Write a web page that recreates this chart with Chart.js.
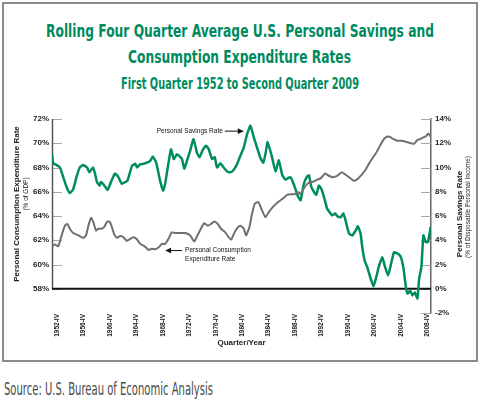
<!DOCTYPE html>
<html lang="en">

<head>
    <meta charset="UTF-8" />
    <title>Rolling Four Quarter Average U.S. Personal Savings and Consumption Expenditure Rates</title>
    <script src="https://cdn.jsdelivr.net/npm/chart.js"></script>
    <style>
        body { margin: 0; width: 482px; height: 401px; background: #fff; position: relative; overflow: hidden; }
        .frame { position: absolute; left: 2px; top: 2px; width: 476px; height: 360px; box-sizing: border-box; border: 2px solid #8c8c8c; }
        .fit { position: absolute; white-space: nowrap; transform-origin: 0 50%; font-family: 'Liberation Sans Narrow', 'DejaVu Sans Condensed', sans-serif; }
        .title { font-size: 18px; line-height: 26px; font-weight: bold; color: #008a5e; }
        .subtitle { font-size: 15px; line-height: 20px; font-weight: bold; color: #008a5e; }
        .source { font-size: 18px; line-height: 20px; color: #4a4a4a; }
        canvas { position: absolute; left: 0; top: 0; }
    </style>
</head>

<body>
    <div class="frame"></div>
    <div id="t1" class="fit title" style="left:46px; top:18px;">Rolling Four Quarter Average U.S. Personal Savings and</div>
    <div id="t2" class="fit title" style="left:128px; top:44px;">Consumption Expenditure Rates</div>
    <div id="t3" class="fit subtitle" style="left:121px; top:74px;">First Quarter 1952 to Second Quarter 2009</div>
    <div id="src" class="fit source" style="left:4px; top:379px;">Source: U.S. Bureau of Economic Analysis</div>
    <canvas id="chart" width="482" height="401"></canvas>

    <script>
        // values (decimal year, quarter 1 = .0)
        const savingsYears = [1952.0, 1952.2, 1952.7, 1953.2, 1953.7, 1954.2, 1954.7, 1955.2, 1955.7, 1956.2, 1956.7, 1957.3, 1957.65, 1958.2, 1958.5, 1958.8, 1959.2, 1959.4, 1959.8, 1960.4, 1960.8, 1961.5, 1962.0, 1962.55, 1963.05, 1963.4, 1964.1, 1964.6, 1964.85, 1965.3, 1965.8, 1966.35, 1966.85, 1967.25, 1967.75, 1968.35, 1968.8, 1969.1, 1969.5, 1970.0, 1970.4, 1970.9, 1971.15, 1971.65, 1972.0, 1972.4, 1972.9, 1973.4, 1973.9, 1974.3, 1974.8, 1975.3, 1975.7, 1976.2, 1976.6, 1976.95, 1977.45, 1977.95, 1978.45, 1978.95, 1979.45, 1980.0, 1980.5, 1981.0, 1981.5, 1982.0, 1982.5, 1983.0, 1983.5, 1983.95, 1984.3, 1984.6, 1985.2, 1985.8, 1986.3, 1986.8, 1987.3, 1988.0, 1988.5, 1989.2, 1989.6, 1990.05, 1990.5, 1990.85, 1991.2, 1991.6, 1991.95, 1992.35, 1992.75, 1993.2, 1993.6, 1994.0, 1994.35, 1994.8, 1995.2, 1995.65, 1996.05, 1996.4, 1996.9, 1997.4, 1997.9, 1998.25, 1998.65, 1998.9, 1999.25, 1999.65, 2000.2, 2000.6, 2000.95, 2001.45, 2001.95, 2002.3, 2002.8, 2003.2, 2003.7, 2004.25, 2004.75, 2005.15, 2005.5, 2005.75, 2006.15, 2006.5, 2006.85, 2007.25, 2007.5, 2007.85, 2008.15, 2008.5, 2008.85, 2009.25];
        const savingsRate = [11.1, 10.35, 10.2, 10.0, 9.2, 8.4, 7.9, 8.2, 9.2, 10.0, 10.2, 10.0, 9.6, 10.0, 9.5, 8.8, 8.5, 8.8, 8.6, 8.15, 8.65, 9.5, 9.25, 8.65, 8.8, 8.9, 10.15, 10.3, 10.0, 10.25, 10.3, 10.4, 10.55, 10.9, 10.4, 8.9, 8.1, 8.65, 10.0, 11.5, 10.7, 11.1, 11.0, 10.7, 9.9, 10.55, 11.4, 12.35, 11.25, 10.85, 11.45, 11.8, 11.5, 10.7, 10.85, 10.0, 10.35, 10.0, 9.7, 9.6, 9.8, 10.3, 11.0, 11.65, 12.75, 13.45, 12.5, 11.65, 10.8, 10.4, 11.2, 12.1, 11.0, 9.7, 10.6, 9.4, 9.0, 9.2, 8.7, 7.6, 7.3, 8.6, 9.2, 9.35, 8.4, 8.0, 7.75, 8.5, 8.2, 7.4, 6.6, 6.3, 6.05, 6.2, 5.95, 5.9, 6.2, 5.6, 4.55, 4.4, 4.8, 5.15, 4.55, 3.45, 2.35, 1.8, 0.8, 0.2, 0.8, 1.9, 2.6, 1.9, 1.1, 1.9, 3.0, 2.9, 2.6, 1.65, 0.15, -0.4, -0.15, -0.55, -0.3, -0.8, 0.8, 1.8, 4.4, 3.85, 3.85, 5.1];

        const consumptionYears = [1952.0, 1952.45, 1952.95, 1953.45, 1953.95, 1954.3, 1954.7, 1955.2, 1956.0, 1956.75, 1957.15, 1957.5, 1957.9, 1958.25, 1958.65, 1959.0, 1959.5, 1959.9, 1960.3, 1960.7, 1961.05, 1961.4, 1961.8, 1962.3, 1962.8, 1963.3, 1963.8, 1964.3, 1964.8, 1965.35, 1966.1, 1966.6, 1967.1, 1967.6, 1968.1, 1968.6, 1969.1, 1969.6, 1970.1, 1970.65, 1971.4, 1972.15, 1972.9, 1973.5, 1974.0, 1974.5, 1975.0, 1975.55, 1976.05, 1976.55, 1977.05, 1977.55, 1978.2, 1978.7, 1979.1, 1979.6, 1980.15, 1980.5, 1981.0, 1981.35, 1981.85, 1982.25, 1982.65, 1983.2, 1983.65, 1984.25, 1984.75, 1985.4, 1986.05, 1986.55, 1987.05, 1987.55, 1988.05, 1988.7, 1989.3, 1989.55, 1990.1, 1990.6, 1991.1, 1991.6, 1992.1, 1992.6, 1993.3, 1993.9, 1994.5, 1995.1, 1995.8, 1996.4, 1996.9, 1997.6, 1998.1, 1998.9, 1999.5, 1999.9, 2000.5, 2001.0, 2001.5, 2002.0, 2002.5, 2002.95, 2003.6, 2004.2, 2004.9, 2005.6, 2006.3, 2006.75, 2007.2, 2007.7, 2008.2, 2008.6, 2008.9, 2009.25];
        const consumptionRate = [61.5, 61.65, 61.5, 62.4, 63.2, 63.35, 62.95, 62.6, 62.4, 62.2, 62.4, 63.2, 63.85, 63.5, 62.8, 62.95, 62.95, 63.1, 63.5, 63.55, 63.1, 62.5, 62.2, 62.35, 62.25, 61.95, 62.1, 62.25, 62.1, 61.7, 61.45, 61.2, 61.3, 61.25, 61.4, 61.7, 61.7, 62.1, 62.65, 62.6, 62.6, 62.6, 62.4, 61.9, 62.4, 62.95, 63.4, 63.2, 63.35, 63.55, 63.35, 62.95, 62.65, 62.25, 62.05, 62.65, 63.1, 63.2, 62.95, 62.4, 63.1, 64.2, 65.0, 65.15, 64.6, 63.9, 64.3, 64.75, 65.1, 65.3, 65.5, 65.75, 65.8, 65.8, 65.95, 65.8, 66.3, 66.65, 66.8, 66.85, 67.0, 67.1, 67.5, 67.3, 67.2, 67.3, 67.6, 67.4, 67.2, 66.9, 67.0, 67.45, 67.9, 68.3, 68.8, 69.2, 69.7, 70.2, 70.5, 70.55, 70.35, 70.2, 70.2, 70.1, 70.0, 69.95, 70.25, 70.35, 70.5, 70.6, 70.8, 70.55];

        const tickYears = [1952, 1956, 1960, 1964, 1968, 1972, 1976, 1980, 1984, 1988, 1992, 1996, 2000, 2004, 2008];

        const GREEN = '#008c62';
        const GREY = '#707072';
        const TEXT = '#222';

        // squeeze the condensed headline lines to the width they have in the reference
        function fitWidth(id, target) {
            const el = document.getElementById(id);
            const w = el.getBoundingClientRect().width;
            el.style.transform = `scaleX(${target / w})`;
        }
        fitWidth('t1', 388);
        fitWidth('t2', 223);
        fitWidth('t3', 238);
        fitWidth('src', 209);

        Chart.defaults.font.family = "'Liberation Sans', Arial, sans-serif";
        Chart.defaults.color = TEXT;

        function toPoints(xs, ys) {
            return xs.map((x, i) => ({ x: x, y: ys[i] }));
        }

        function vText(ctx, text, x, y, font) {
            ctx.save();
            ctx.translate(x, y);
            ctx.rotate(-Math.PI / 2);
            ctx.font = font;
            ctx.textAlign = 'center';
            ctx.textBaseline = 'middle';
            ctx.fillText(text, 0, 0);
            ctx.restore();
        }

        function arrow(ctx, x1, y, x2) {
            // shaft from x1 to the head at x2
            const dir = Math.sign(x2 - x1);
            ctx.beginPath();
            ctx.moveTo(x1, y);
            ctx.lineTo(x2 - dir * 5, y);
            ctx.stroke();
            ctx.beginPath();
            ctx.moveTo(x2, y);
            ctx.lineTo(x2 - dir * 6, y - 2.8);
            ctx.lineTo(x2 - dir * 6, y + 2.8);
            ctx.closePath();
            ctx.fill();
        }

        // axis ticks pointing into the plot, the 0% baseline and the left axis line
        const axisDecor = {
            id: 'axisDecor',
            beforeDatasetsDraw(chart) {
                const { ctx, chartArea: a, scales } = chart;
                const left = scales.yCons, right = scales.ySave;
                ctx.save();
                ctx.strokeStyle = '#a8a8a8';
                ctx.lineWidth = 1;
                left.ticks.forEach(t => {
                    const y = Math.round(left.getPixelForValue(t.value)) + 0.5;
                    ctx.beginPath(); ctx.moveTo(a.left, y); ctx.lineTo(a.left + 10, y); ctx.stroke();
                });
                right.ticks.forEach(t => {
                    const y = Math.round(right.getPixelForValue(t.value)) + 0.5;
                    ctx.beginPath(); ctx.moveTo(a.right - 10, y); ctx.lineTo(a.right, y); ctx.stroke();
                });
                ctx.strokeStyle = '#555';
                ctx.lineWidth = 1.5;
                ctx.beginPath();
                ctx.moveTo(a.left + 0.5, left.getPixelForValue(72));
                ctx.lineTo(a.left + 0.5, left.getPixelForValue(58));
                ctx.stroke();
                ctx.strokeStyle = '#111';
                ctx.lineWidth = 2;
                const y0 = right.getPixelForValue(0);
                ctx.beginPath(); ctx.moveTo(a.left, y0); ctx.lineTo(a.right, y0); ctx.stroke();
                ctx.restore();
            },
            afterDraw(chart) {
                const { ctx, chartArea: a, scales } = chart;
                const x = scales.x, left = scales.yCons, right = scales.ySave;
                ctx.save();
                ctx.fillStyle = TEXT;
                vText(ctx, 'Personal Consumption Expenditure Rate', 17, 204, 'bold 8px Liberation Sans');
                vText(ctx, '(% of GDP)', 26, 194, '6.5px Liberation Sans');
                vText(ctx, 'Personal Savings Rate', 460, 214, 'bold 8px Liberation Sans');
                vText(ctx, '(% of Disposable Personal Income)', 468, 207, '6.5px Liberation Sans');

                ctx.font = 'bold 8px Liberation Sans';
                ctx.textAlign = 'center';
                ctx.textBaseline = 'middle';
                ctx.fillText('Quarter/Year', (a.left + a.right) / 2, 343);

                // line callouts
                ctx.font = '6.5px Liberation Sans';
                ctx.strokeStyle = '#111';
                ctx.fillStyle = '#111';
                ctx.lineWidth = 1;
                const sx = x.getPixelForValue(1981.0), sy = right.getPixelForValue(13.0);
                arrow(ctx, sx - 19, sy, sx);
                ctx.textAlign = 'right';
                ctx.fillText('Personal Savings Rate', sx - 21, sy);

                const cx = x.getPixelForValue(1969.1), cy = left.getPixelForValue(61.15);
                arrow(ctx, cx + 17, cy, cx);
                ctx.textAlign = 'left';
                ctx.fillText('Personal Consumption', cx + 20, cy);
                ctx.fillText('Expenditure Rate', cx + 20, cy + 8.5);
                ctx.restore();
            }
        };

        new Chart(document.getElementById('chart'), {
            type: 'line',
            data: {
                datasets: [
                    {
                        label: 'Personal Consumption Expenditure Rate',
                        data: toPoints(consumptionYears, consumptionRate),
                        yAxisID: 'yCons',
                        borderColor: GREY,
                        borderWidth: 2,
                        pointRadius: 0,
                        tension: 0.15
                    },
                    {
                        label: 'Personal Savings Rate',
                        data: toPoints(savingsYears, savingsRate),
                        yAxisID: 'ySave',
                        borderColor: GREEN,
                        borderWidth: 2.5,
                        pointRadius: 0,
                        tension: 0.15
                    }
                ]
            },
            options: {
                responsive: false,
                animation: false,
                devicePixelRatio: 1,
                layout: { padding: { top: 119, left: 0, right: 0, bottom: 51 } },
                plugins: { legend: { display: false }, tooltip: { enabled: false } },
                scales: {
                    x: {
                        type: 'linear',
                        min: 1952,
                        max: 2009.3,
                        grid: { display: false, drawTicks: false },
                        border: { display: false },
                        afterBuildTicks: s => { s.ticks = tickYears.map(y => ({ value: y + 0.75 })); },
                        afterFit: s => { s.height = 37; },
                        ticks: {
                            autoSkip: false,
                            minRotation: 90,
                            maxRotation: 90,
                            padding: 1,
                            font: { size: 6.5, weight: 'bold' },
                            callback: v => Math.floor(v) + '-IV'
                        }
                    },
                    yCons: {
                        position: 'left',
                        min: 56,
                        max: 72,
                        grid: { display: false, drawTicks: false },
                        border: { display: false },
                        afterBuildTicks: s => { s.ticks = s.ticks.filter(t => t.value >= 58); },
                        afterFit: s => { s.width = 52; },
                        ticks: { stepSize: 2, padding: 3, font: { size: 8, weight: 'bold' }, callback: v => v + '%' }
                    },
                    ySave: {
                        position: 'right',
                        min: -2,
                        max: 14,
                        grid: { display: false, drawTicks: false },
                        border: { display: true, color: '#666', width: 1.5 },
                        afterFit: s => { s.width = 51; },
                        ticks: { stepSize: 2, padding: 4, font: { size: 8, weight: 'bold' }, callback: v => v + '%' }
                    }
                }
            },
            plugins: [axisDecor]
        });
    </script>
</body>

</html>
